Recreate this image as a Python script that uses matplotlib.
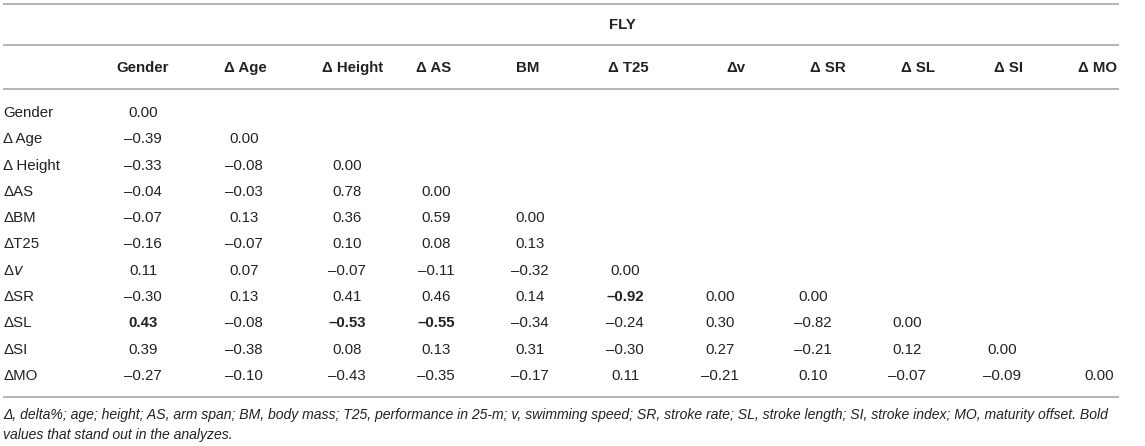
import numpy as np
import matplotlib
matplotlib.use('Agg')
import matplotlib.pyplot as plt

plt.rcParams['font.family'] = ['Liberation Sans', 'DejaVu Sans']

title = 'FLY'
col_labels = ['Gender', '\u0394 Age', '\u0394 Height', '\u0394 AS', 'BM', '\u0394 T25',
              '\u0394v', '\u0394 SR', '\u0394 SL', '\u0394 SI', '\u0394 MO']
row_labels = ['Gender', '\u0394 Age', '\u0394 Height', '\u0394AS', '\u0394BM', '\u0394T25',
              '\u0394$\\it{v}$', '\u0394SR', '\u0394SL', '\u0394SI', '\u0394MO']

# correlation values per row, left to right
values = [
    [0.00],
    [-0.39, 0.00],
    [-0.33, -0.08, 0.00],
    [-0.04, -0.03, 0.78, 0.00],
    [-0.07, 0.13, 0.36, 0.59, 0.00],
    [-0.16, -0.07, 0.10, 0.08, 0.13],
    [0.11, 0.07, -0.07, -0.11, -0.32, 0.00],
    [-0.30, 0.13, 0.41, 0.46, 0.14, -0.92, 0.00, 0.00],
    [0.43, -0.08, -0.53, -0.55, -0.34, -0.24, 0.30, -0.82, 0.00],
    [0.39, -0.38, 0.08, 0.13, 0.31, -0.30, 0.27, -0.21, 0.12, 0.00],
    [-0.27, -0.10, -0.43, -0.35, -0.17, 0.11, -0.21, 0.10, -0.07, -0.09, 0.00],
]
# (row, col) of bold cells
bold_cells = [(7, 5), (8, 0), (8, 2), (8, 3)]

footnote = ('\u0394, delta%; age; height; AS, arm span; BM, body mass; T25, performance in 25-m; '
            'v, swimming speed; SR, stroke rate; SL, stroke length; SI, stroke index; MO, maturity offset. Bold\n'
            'values that stand out in the analyzes.')

W, H = 1145, 446
fig = plt.figure(figsize=(W / 100, H / 100), dpi=100)
ax = fig.add_axes([0, 0, 1, 1])
ax.set_xlim(0, W)
ax.set_ylim(H, 0)
ax.axis('off')

txt = '#222222'
line_c = '#b4b4b4'
fs = 10.8

col_x = [143, 244, 347, 436, 530, 625, 720, 813, 907, 1002, 1099]
head_x = [143, 245, 353, 434, 528, 628, 736, 828, 918, 1008, 1098]
row_y0, row_dy = 113, 26.3

for y in [4, 45, 89, 397]:
    ax.plot([3, 1119], [y, y], color=line_c, lw=1.4, solid_capstyle='butt')

ax.text(622, 25, title, ha='center', va='center', fontsize=fs, fontweight='bold', color=txt)

for x, lab in zip(head_x, col_labels):
    ax.text(x, 68, lab, ha='center', va='center', fontsize=fs, fontweight='bold', color=txt)

for i, (lab, row) in enumerate(zip(row_labels, values)):
    y = row_y0 + i * row_dy
    ax.text(3, y, lab, ha='left', va='center', fontsize=fs, color=txt)
    for j, v in enumerate(row):
        s = f'{v:.2f}'.replace('-', '\u2013')
        w = 'bold' if (i, j) in bold_cells else 'normal'
        ax.text(col_x[j], y, s, ha='center', va='center', fontsize=fs, fontweight=w, color=txt)

ax.text(3, 408, footnote, ha='left', va='top', fontsize=10.05, style='italic',
        color=txt, linespacing=1.55)

fig.savefig('out.png', dpi=100)
